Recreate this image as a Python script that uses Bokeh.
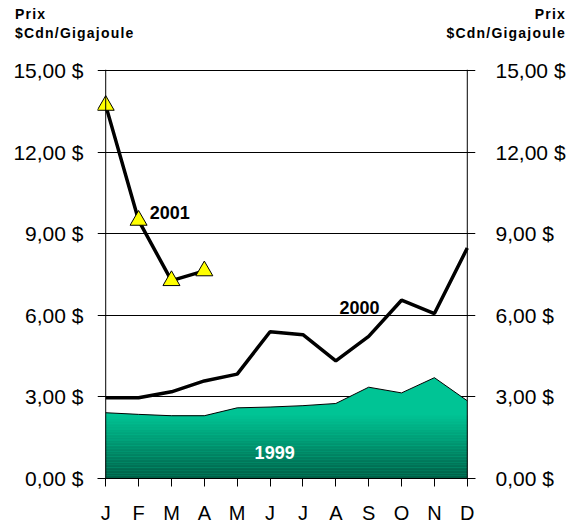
from bokeh.plotting import figure
from bokeh.models import Range1d, LinearAxis, FixedTicker, Span, Label, Div
from bokeh.layouts import column
from bokeh.embed import file_html
from bokeh.resources import INLINE
import numpy as np

months = ["J", "F", "M", "A", "M", "J", "J", "A", "S", "O", "N", "D"]
y1999 = [2.42, 2.36, 2.31, 2.31, 2.60, 2.63, 2.68, 2.76, 3.36, 3.15, 3.71, 2.86]
y2000 = [2.97, 2.97, 3.19, 3.59, 3.84, 5.40, 5.29, 4.33, 5.23, 6.56, 6.07, 8.48]
y2001 = [13.73, 9.50, 7.28, 7.64]
yticks = [0, 3, 6, 9, 12, 15]
ytick_labels = ["0,00 $", "3,00 $", "6,00 $", "9,00 $", "12,00 $", "15,00 $"]
header_lines = ["Prix", "$Cdn/Gigajoule"]

FONT = "Liberation Sans"
xs = list(range(len(months)))

# ---- header strip (HTML text) ----
W = 577
HH = 46
hdr = "<br>".join(header_lines)
box = ("position:absolute;top:5px;font-family:'Liberation Sans',Arial,sans-serif;"
       "font-weight:bold;font-size:14px;letter-spacing:1.2px;line-height:19.2px;"
       "color:#000;white-space:nowrap;")
html = ('<div style="position:relative;width:%dpx;height:%dpx;margin:0;padding:0;">'
        '<div style="%sleft:15px;text-align:left;">%s</div>'
        '<div style="%sright:11px;text-align:right;">%s</div></div>'
        % (W, HH, box, hdr, box, hdr))
h = Div(text=html, width=W, height=HH, margin=0)

# ---- main chart ----
p = figure(width=W, height=526 - HH, output_backend="svg", toolbar_location=None,
           x_range=Range1d(-0.25, 11.25), y_range=Range1d(0, 15.05),
           min_border_left=97, min_border_right=102, min_border_top=69 - HH,
           min_border_bottom=41, background_fill_color="white",
           border_fill_color="white", outline_line_color=None)

# grid
p.xgrid.grid_line_color = None
p.ygrid.ticker = FixedTicker(ticks=yticks)
p.ygrid.grid_line_color = "black"
p.ygrid.grid_line_width = 1

# bottom axis
xa = p.xaxis[0]
xa.ticker = FixedTicker(ticks=xs)
xa.major_label_overrides = {i: m for i, m in enumerate(months)}
xa.major_label_text_font = FONT
xa.major_label_text_font_size = "20px"
xa.major_label_text_color = "black"
xa.axis_line_color = "black"
xa.major_tick_line_color = "black"
xa.major_tick_out = 8
xa.major_tick_in = 0
xa.minor_tick_line_color = None
xa.major_label_standoff = 15

# left axis
ya = p.yaxis[0]
ya.ticker = FixedTicker(ticks=yticks)
ya.major_label_overrides = dict(zip(yticks, ytick_labels))
ya.axis_line_color = None
ya.major_tick_line_color = None
ya.minor_tick_line_color = None
ya.major_label_text_font = FONT
ya.major_label_text_font_size = "21px"
ya.major_label_text_color = "black"
ya.major_label_standoff = 8

ra = LinearAxis(ticker=FixedTicker(ticks=yticks),
                major_label_overrides=dict(zip(yticks, ytick_labels)),
                axis_line_color=None, major_tick_line_color=None,
                minor_tick_line_color=None, major_label_text_font=FONT,
                major_label_text_font_size="21px", major_label_text_color="black",
                major_label_standoff=14)
p.add_layout(ra, "right")

# 1999 area with vertical gradient
top_col = "#00C495"
p.varea(x=xs, y1=[0] * len(xs), y2=y1999, fill_color=top_col)
lo = min(y1999)
n = 40
c0 = np.array([0x00, 0x5E, 0x46])
c1 = np.array([0x00, 0xC2, 0x93])
edges = np.linspace(0, lo, n + 1)
for k in range(n):
    t = (k + 0.5) / n
    c = (c0 + (c1 - c0) * t).astype(int)
    col = "#%02x%02x%02x" % tuple(c)
    p.quad(left=xs[0], right=xs[-1], bottom=edges[k], top=edges[k + 1] + 0.005,
           fill_color=col, line_color=None)
p.line(xs, y1999, line_color="black", line_width=1)

# axis lines at J and D
p.add_layout(Span(location=xs[0], dimension="height", line_color="black", line_width=1))
p.add_layout(Span(location=xs[-1], dimension="height", line_color="black", line_width=1))

# 2000 line
p.line(xs, y2000, line_color="black", line_width=3.5)

# 2001 line with triangles
x01 = xs[:len(y2001)]
p.line(x01, y2001, line_color="black", line_width=3.5)
p.scatter(x01, y2001, marker="triangle", size=17, fill_color="#FFFF00",
          line_color="black", line_width=1)

# series labels
p.add_layout(Label(x=1.34, y=9.55, text="2001", text_font=FONT, text_font_size="18px",
                   text_font_style="bold", text_color="black"))
p.add_layout(Label(x=7.11, y=6.05, text="2000", text_font=FONT, text_font_size="18px",
                   text_font_style="bold", text_color="black"))
p.add_layout(Label(x=4.53, y=0.72, text="1999", text_font=FONT, text_font_size="18px",
                   text_font_style="bold", text_color="white"))

layout = column(h, p, spacing=0)
open("out.html", "w").write(file_html(layout, INLINE))
